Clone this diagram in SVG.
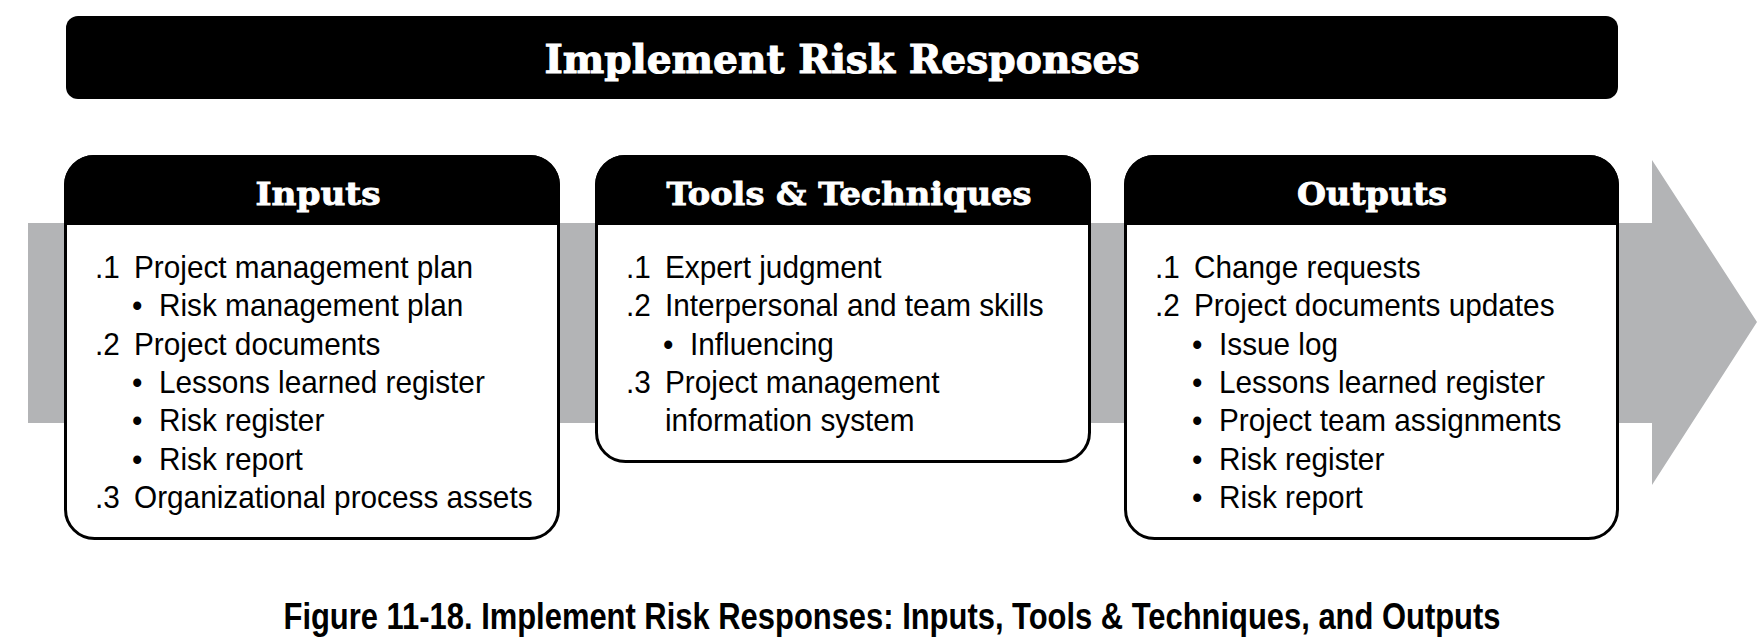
<svg xmlns="http://www.w3.org/2000/svg" width="1758" height="640" viewBox="0 0 1758 640">
<style>
.t{font-family:"Liberation Sans",Arial,sans-serif;font-size:32px;fill:#000}
.h{font-family:"DejaVu Serif","Liberation Serif",serif;font-weight:bold;font-size:32px;fill:#fff;stroke:#fff;stroke-width:0.9;text-anchor:middle}
.ttl{font-family:"DejaVu Serif","Liberation Serif",serif;font-weight:bold;font-size:39px;fill:#fff;stroke:#fff;stroke-width:1;text-anchor:middle}
.cap{font-family:"Liberation Sans",Arial,sans-serif;font-weight:bold;font-size:37px;fill:#000;text-anchor:middle}
.box{fill:#fff;stroke:#000;stroke-width:3}
.hdr{fill:#000}
.band{fill:#b3b4b6}
</style>
<rect width="1758" height="640" fill="#fff"/>
<g id="connectors">
  <polygon class="band" points="28,223 1652,223 1652,160 1757,322 1652,485 1652,423 28,423"/>
</g>
<g id="title">
  <rect x="66" y="16" width="1552" height="83" rx="12" fill="#000"/>
  <text class="ttl" x="842" y="73" textLength="595" lengthAdjust="spacingAndGlyphs">Implement Risk Responses</text>
</g>
<g id="inputs">
  <rect class="box" x="65.5" y="156.5" width="493" height="382" rx="29"/>
  <path class="hdr" d="M64,225 V185 A30,30 0 0 1 94,155 H530 A30,30 0 0 1 560,185 V225 Z"/>
  <text class="h" x="318" y="205" textLength="125" lengthAdjust="spacingAndGlyphs">Inputs</text>
  <text class="t" transform="translate(95 278) scale(0.93 1)">.1</text>
  <text class="t" transform="translate(134 278) scale(0.93 1)">Project management plan</text>
  <text class="t" transform="translate(132 316.3) scale(0.93 1)">•</text>
  <text class="t" transform="translate(159 316.3) scale(0.93 1)">Risk management plan</text>
  <text class="t" transform="translate(95 354.6) scale(0.93 1)">.2</text>
  <text class="t" transform="translate(134 354.6) scale(0.93 1)">Project documents</text>
  <text class="t" transform="translate(132 392.9) scale(0.93 1)">•</text>
  <text class="t" transform="translate(159 392.9) scale(0.93 1)">Lessons learned register</text>
  <text class="t" transform="translate(132 431.2) scale(0.93 1)">•</text>
  <text class="t" transform="translate(159 431.2) scale(0.93 1)">Risk register</text>
  <text class="t" transform="translate(132 469.5) scale(0.93 1)">•</text>
  <text class="t" transform="translate(159 469.5) scale(0.93 1)">Risk report</text>
  <text class="t" transform="translate(95 507.8) scale(0.93 1)">.3</text>
  <text class="t" transform="translate(134 507.8) scale(0.93 1)">Organizational process assets</text>
</g>
<g id="tools">
  <rect class="box" x="596.5" y="156.5" width="493" height="305" rx="29"/>
  <path class="hdr" d="M595,225 V185 A30,30 0 0 1 625,155 H1061 A30,30 0 0 1 1091,185 V225 Z"/>
  <text class="h" x="849" y="205" textLength="365" lengthAdjust="spacingAndGlyphs">Tools &amp; Techniques</text>
  <text class="t" transform="translate(626 278) scale(0.93 1)">.1</text>
  <text class="t" transform="translate(665 278) scale(0.93 1)">Expert judgment</text>
  <text class="t" transform="translate(626 316.3) scale(0.93 1)">.2</text>
  <text class="t" transform="translate(665 316.3) scale(0.93 1)">Interpersonal and team skills</text>
  <text class="t" transform="translate(663 354.6) scale(0.93 1)">•</text>
  <text class="t" transform="translate(690 354.6) scale(0.93 1)">Influencing</text>
  <text class="t" transform="translate(626 392.9) scale(0.93 1)">.3</text>
  <text class="t" transform="translate(665 392.9) scale(0.93 1)">Project management</text>
  <text class="t" transform="translate(665 431.2) scale(0.93 1)">information system</text>
</g>
<g id="outputs">
  <rect class="box" x="1125.5" y="156.5" width="492" height="382" rx="29"/>
  <path class="hdr" d="M1124,225 V185 A30,30 0 0 1 1154,155 H1589 A30,30 0 0 1 1619,185 V225 Z"/>
  <text class="h" x="1372" y="205" textLength="150" lengthAdjust="spacingAndGlyphs">Outputs</text>
  <text class="t" transform="translate(1155 278) scale(0.93 1)">.1</text>
  <text class="t" transform="translate(1194 278) scale(0.93 1)">Change requests</text>
  <text class="t" transform="translate(1155 316.3) scale(0.93 1)">.2</text>
  <text class="t" transform="translate(1194 316.3) scale(0.93 1)">Project documents updates</text>
  <text class="t" transform="translate(1192 354.6) scale(0.93 1)">•</text>
  <text class="t" transform="translate(1219 354.6) scale(0.93 1)">Issue log</text>
  <text class="t" transform="translate(1192 392.9) scale(0.93 1)">•</text>
  <text class="t" transform="translate(1219 392.9) scale(0.93 1)">Lessons learned register</text>
  <text class="t" transform="translate(1192 431.2) scale(0.93 1)">•</text>
  <text class="t" transform="translate(1219 431.2) scale(0.93 1)">Project team assignments</text>
  <text class="t" transform="translate(1192 469.5) scale(0.93 1)">•</text>
  <text class="t" transform="translate(1219 469.5) scale(0.93 1)">Risk register</text>
  <text class="t" transform="translate(1192 507.8) scale(0.93 1)">•</text>
  <text class="t" transform="translate(1219 507.8) scale(0.93 1)">Risk report</text>
</g>
<g id="caption">
  <text class="cap" x="892" y="629" textLength="1217" lengthAdjust="spacingAndGlyphs">Figure 11-18. Implement Risk Responses: Inputs, Tools &amp; Techniques, and Outputs</text>
</g>
</svg>
